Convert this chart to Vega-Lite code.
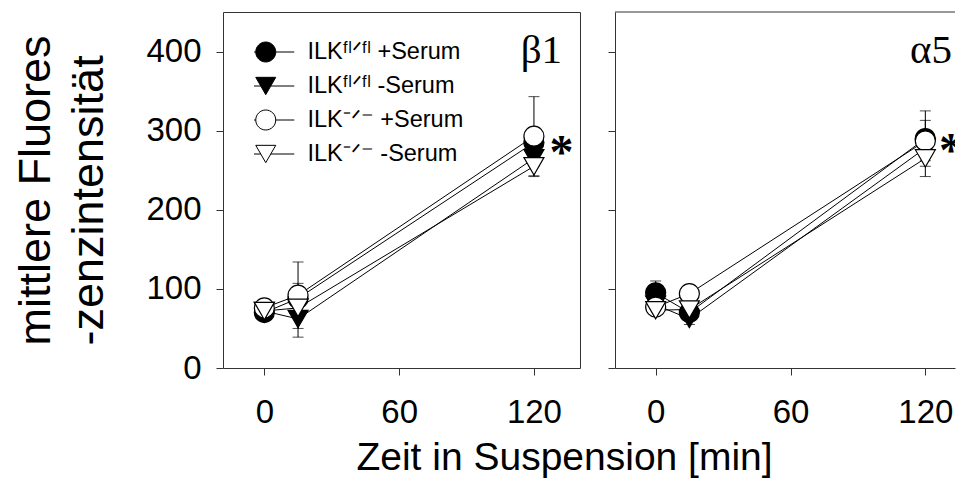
{
  "$schema": "https://vega.github.io/schema/vega-lite/v6.json",
  "background": "white",
  "padding": {"left": 12, "top": 11, "right": 0, "bottom": 0},
  "bounds": "flush",
  "spacing": 35,
  "datasets": {
    "b1": [
      {"series": "flfl_plus", "t": 0, "v": 70, "lo": 62, "hi": 78},
      {"series": "flfl_plus", "t": 15, "v": 88, "lo": 69, "hi": 107},
      {"series": "flfl_plus", "t": 120, "v": 285, "lo": 270, "hi": 300},
      {"series": "flfl_minus", "t": 0, "v": 72, "lo": 67, "hi": 77},
      {"series": "flfl_minus", "t": 15, "v": 62, "lo": 39, "hi": 85},
      {"series": "flfl_minus", "t": 120, "v": 265, "lo": 255, "hi": 275},
      {"series": "ko_plus", "t": 0, "v": 76, "lo": 67, "hi": 85},
      {"series": "ko_plus", "t": 15, "v": 92, "lo": 50, "hi": 134},
      {"series": "ko_plus", "t": 120, "v": 293, "lo": 243, "hi": 343},
      {"series": "ko_minus", "t": 0, "v": 72, "lo": 67, "hi": 77},
      {"series": "ko_minus", "t": 15, "v": 76, "lo": 68, "hi": 84},
      {"series": "ko_minus", "t": 120, "v": 255, "lo": 242, "hi": 268}
    ],
    "a5": [
      {"series": "flfl_plus", "t": 0, "v": 95, "lo": 80, "hi": 110},
      {"series": "flfl_plus", "t": 15, "v": 70, "lo": 60, "hi": 80},
      {"series": "flfl_plus", "t": 120, "v": 290, "lo": 255, "hi": 325},
      {"series": "flfl_minus", "t": 0, "v": 80, "lo": 72, "hi": 88},
      {"series": "flfl_minus", "t": 15, "v": 62, "lo": 55, "hi": 69},
      {"series": "flfl_minus", "t": 120, "v": 278, "lo": 268, "hi": 288},
      {"series": "ko_plus", "t": 0, "v": 77, "lo": 70, "hi": 84},
      {"series": "ko_plus", "t": 15, "v": 94, "lo": 86, "hi": 102},
      {"series": "ko_plus", "t": 120, "v": 287, "lo": 262, "hi": 313},
      {"series": "ko_minus", "t": 0, "v": 73, "lo": 66, "hi": 80},
      {"series": "ko_minus", "t": 15, "v": 74, "lo": 69, "hi": 89},
      {"series": "ko_minus", "t": 120, "v": 265, "lo": 242, "hi": 288}
    ]
  },
  "config": {
    "font": "Liberation Sans",
    "view": {"stroke": "#333", "strokeWidth": 1},
    "axis": {
      "grid": false, "domain": false, "domainColor": "#333", "tickColor": "#333", "tickSize": 7, "tickWidth": 1,
      "labelFontSize": 33, "labelColor": "black", "labelFont": "Liberation Sans",
      "titleFont": "Liberation Sans", "titleColor": "black", "titleFontWeight": "normal",
      "labelFlush": false, "labelOverlap": false, "labelBound": false
    },
    "axisX": {"labelPadding": 21},
    "axisY": {"labelPadding": 15}
  },
  "resolve": {
    "scale": {"shape": "independent", "fill": "independent"},
    "legend": {"shape": "independent", "fill": "independent"}
  },
  "hconcat": [
    {
      "width": 357,
      "height": 356,
      "resolve": {"scale": {"shape": "independent", "fill": "independent"}, "legend": {"shape": "independent", "fill": "independent"}},
      "layer": [
        {
          "data": {"name": "b1"},
          "mark": {"type": "rule", "color": "black", "strokeWidth": 1},
          "encoding": {
            "x": {"field": "t", "type": "quantitative", "scale": {"domain": [-18.4, 140.5], "nice": false, "zero": false},
              "axis": {"values": [0, 60, 120], "title": "Zeit in Suspension [min]", "titleX": 341, "titleY": 101, "titleAlign": "center", "titleBaseline": "alphabetic", "titleFontSize": 39}},
            "y": {"field": "lo", "type": "quantitative", "scale": {"domain": [0, 450], "nice": false},
              "axis": {"values": [0, 100, 200, 300, 400], "title": ["mittlere Fluores", "-zenzintensität"], "titleFontSize": 45, "titleAngle": -90, "titleAlign": "left", "titleBaseline": "alphabetic", "titleX": -174, "titleY": 333, "titleLineHeight": 53}},
            "y2": {"field": "hi"}
          }
        },
        {
          "data": {"name": "b1"},
          "mark": {"type": "tick", "orient": "horizontal", "size": 11, "thickness": 1, "color": "black"},
          "encoding": {"x": {"field": "t", "type": "quantitative"}, "y": {"field": "lo", "type": "quantitative"}}
        },
        {
          "data": {"name": "b1"},
          "mark": {"type": "tick", "orient": "horizontal", "size": 11, "thickness": 1, "color": "black"},
          "encoding": {"x": {"field": "t", "type": "quantitative"}, "y": {"field": "hi", "type": "quantitative"}}
        },
        {
          "data": {"name": "b1"},
          "mark": {"type": "line", "color": "black", "strokeWidth": 1},
          "encoding": {"x": {"field": "t", "type": "quantitative"}, "y": {"field": "v", "type": "quantitative"}, "detail": {"field": "series"}}
        },
        {
          "data": {"name": "b1"},
          "mark": {"type": "point", "filled": true, "stroke": "black", "strokeWidth": 1.2, "size": 400, "opacity": 1},
          "encoding": {
            "x": {"field": "t", "type": "quantitative"},
            "y": {"field": "v", "type": "quantitative"},
            "shape": {"field": "series", "type": "nominal",
              "scale": {"domain": ["flfl_plus", "flfl_minus", "ko_plus", "ko_minus"], "range": ["circle", "triangle-down", "circle", "triangle-down"]},
              "legend": null},
            "fill": {"field": "series", "type": "nominal",
              "scale": {"domain": ["flfl_plus", "flfl_minus", "ko_plus", "ko_minus"], "range": ["black", "black", "white", "white"]},
              "legend": null}
          }
        },
        {
          "data": {"name": "b1"},
          "transform": [{"filter": "datum.t < 0"}],
          "mark": {"type": "point", "filled": true, "stroke": "black", "strokeWidth": 1, "opacity": 1},
          "encoding": {
            "x": {"field": "t", "type": "quantitative"},
            "y": {"field": "v", "type": "quantitative"},
            "shape": {"field": "series", "type": "nominal",
              "scale": {"domain": ["flfl_plus", "flfl_minus", "ko_plus", "ko_minus"],
                "range": [
                  "M-2.85,0H-1M1,0H2.85M1,0A1,1,0,1,1,-1,0A1,1,0,1,1,1,0Z",
                  "M-2.85,0H-0.5M0.5,0H2.85M0,0.866L-1,-0.866L1,-0.866Z",
                  "M-2.85,0H-1M1,0H2.85M1,0A1,1,0,1,1,-1,0A1,1,0,1,1,1,0Z",
                  "M-2.85,0H-0.5M0.5,0H2.85M0,0.866L-1,-0.866L1,-0.866Z"
                ]},
              "legend": {
                "title": null, "orient": "none", "legendX": 31, "legendY": 23, "padding": 0,
                "symbolSize": 400, "labelFontSize": 23.5, "labelFont": "Liberation Sans", "labelColor": "black",
                "clipHeight": 34, "rowPadding": 0, "labelOffset": 30, "symbolStrokeWidth": 1,
                "labelExpr": "datum.value == 'flfl_plus' ? 'ILKᶠˡᐟᶠˡ +Serum' : datum.value == 'flfl_minus' ? 'ILKᶠˡᐟᶠˡ -Serum' : datum.value == 'ko_plus' ? 'ILK⁻ᐟ⁻ +Serum' : 'ILK⁻ᐟ⁻ -Serum'",
                "encode": {"symbols": {"update": {
                  "fill": {"signal": "(datum.value == 'flfl_plus' || datum.value == 'flfl_minus') ? 'black' : 'white'"},
                  "stroke": {"value": "black"},
                  "strokeWidth": {"value": 1},
                  "opacity": {"value": 1}
                }}}
              }},
            "fill": {"field": "series", "type": "nominal",
              "scale": {"domain": ["flfl_plus", "flfl_minus", "ko_plus", "ko_minus"], "range": ["black", "black", "white", "white"]},
              "legend": null}
          }
        },
        {
          "data": {"values": [{"txt": "β1"}]},
          "mark": {"type": "text", "font": "Liberation Serif", "fontSize": 41, "align": "right", "baseline": "alphabetic", "color": "black"},
          "encoding": {"x": {"datum": 132.5}, "y": {"datum": 385}, "text": {"field": "txt"}}
        },
        {
          "data": {"values": [{"txt": "*"}]},
          "mark": {"type": "text", "font": "Liberation Serif", "fontSize": 48, "fontWeight": "bold", "align": "center", "baseline": "alphabetic", "color": "black"},
          "encoding": {"x": {"datum": 132.3}, "y": {"datum": 253}, "text": {"field": "txt"}}
        }
      ]
    },
    {
      "width": 340,
      "height": 356,
      "view": {"stroke": null},
      "layer": [
        {
          "data": {"name": "a5"},
          "mark": {"type": "rule", "color": "black", "strokeWidth": 1},
          "encoding": {
            "x": {"field": "t", "type": "quantitative", "scale": {"domain": [-18.1, 133.2], "nice": false, "zero": false},
              "axis": {"values": [0, 60, 120], "title": null, "domain": true}},
            "y": {"field": "lo", "type": "quantitative", "scale": {"domain": [0, 450], "nice": false},
              "axis": {"values": [0, 100, 200, 300, 400], "labels": false, "title": null, "domain": true}},
            "y2": {"field": "hi"}
          }
        },
        {
          "data": {"name": "a5"},
          "mark": {"type": "tick", "orient": "horizontal", "size": 11, "thickness": 1, "color": "black"},
          "encoding": {"x": {"field": "t", "type": "quantitative"}, "y": {"field": "lo", "type": "quantitative"}}
        },
        {
          "data": {"name": "a5"},
          "mark": {"type": "tick", "orient": "horizontal", "size": 11, "thickness": 1, "color": "black"},
          "encoding": {"x": {"field": "t", "type": "quantitative"}, "y": {"field": "hi", "type": "quantitative"}}
        },
        {
          "data": {"name": "a5"},
          "mark": {"type": "line", "color": "black", "strokeWidth": 1},
          "encoding": {"x": {"field": "t", "type": "quantitative"}, "y": {"field": "v", "type": "quantitative"}, "detail": {"field": "series"}}
        },
        {
          "data": {"name": "a5"},
          "mark": {"type": "point", "filled": true, "stroke": "black", "strokeWidth": 1.2, "size": 400, "opacity": 1},
          "encoding": {
            "x": {"field": "t", "type": "quantitative"},
            "y": {"field": "v", "type": "quantitative"},
            "shape": {"field": "series", "type": "nominal",
              "scale": {"domain": ["flfl_plus", "flfl_minus", "ko_plus", "ko_minus"], "range": ["circle", "triangle-down", "circle", "triangle-down"]},
              "legend": null},
            "fill": {"field": "series", "type": "nominal",
              "scale": {"domain": ["flfl_plus", "flfl_minus", "ko_plus", "ko_minus"], "range": ["black", "black", "white", "white"]},
              "legend": null}
          }
        },
        {
          "data": {"values": [{}]},
          "mark": {"type": "rule", "color": "#333", "strokeWidth": 1},
          "encoding": {"y": {"datum": 450}}
        },
        {
          "data": {"values": [{"txt": "α5"}]},
          "mark": {"type": "text", "font": "Liberation Serif", "fontSize": 41, "align": "right", "baseline": "alphabetic", "color": "black"},
          "encoding": {"x": {"datum": 131.9}, "y": {"datum": 385}, "text": {"field": "txt"}}
        },
        {
          "data": {"values": [{"txt": "*"}]},
          "mark": {"type": "text", "font": "Liberation Serif", "fontSize": 48, "fontWeight": "bold", "align": "center", "baseline": "alphabetic", "color": "black", "clip": true},
          "encoding": {"x": {"datum": 131.4}, "y": {"datum": 255}, "text": {"field": "txt"}}
        }
      ]
    }
  ]
}
